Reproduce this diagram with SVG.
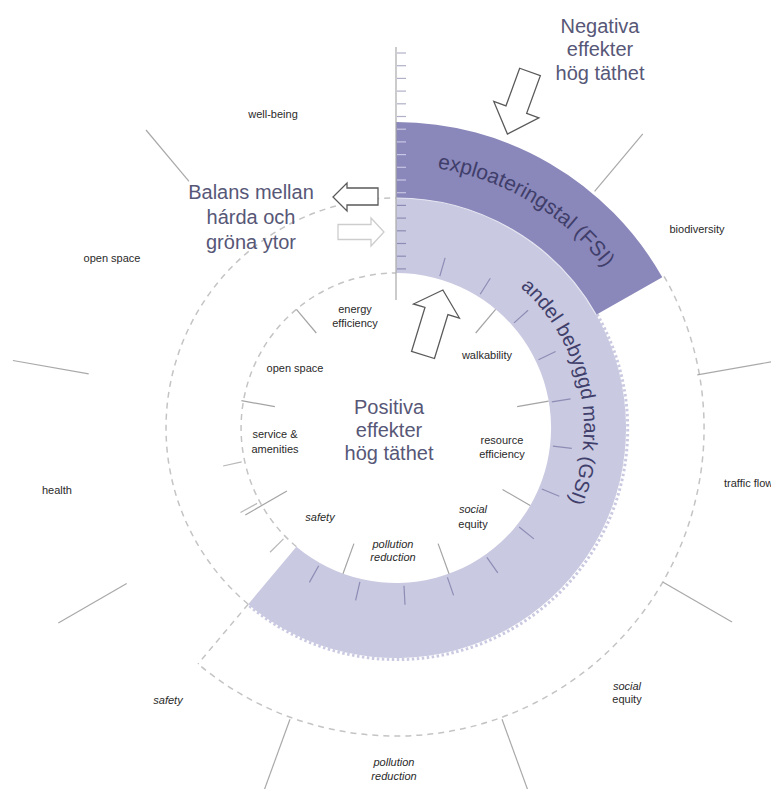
<svg xmlns="http://www.w3.org/2000/svg" width="771" height="789" viewBox="0 0 771 789">
<defs>
<style>
.lbl{font-family:"Liberation Sans",Arial,sans-serif;font-size:11px;fill:#2a2a2a;text-anchor:middle}
.it{font-style:italic}
.big{font-family:"Liberation Sans",Arial,sans-serif;font-size:20px;fill:#575777;text-anchor:middle}
.band{font-family:"Liberation Sans",Arial,sans-serif;fill:#403e6a}
.dash{fill:none;stroke:#c4c4c4;stroke-width:1.5;stroke-dasharray:6 5}
.spoke{stroke:#a9a9a9;stroke-width:1.2;fill:none}
.wsp{stroke:#a4a4a4;stroke-width:1.2}
.tick{stroke:#8e8cb4;stroke-width:1.2}
.tickl{stroke:#b8b8b8;stroke-width:1.2}
.arrow{fill:#fff;stroke:#5a5a5a;stroke-width:1.3;stroke-linejoin:miter}
</style>
<path id="fsiPath" d="M288.2,188.1 A263,263 0 0 1 658.3,408.7"/>
<path id="gsiPath" d="M451.7,248.5 A188,188 0 0 1 523.6,566.0"/>
</defs>
<rect width="771" height="789" fill="#ffffff"/>

<g id="bands">
<path d="M396,198 A230,230 0 1 1 248.2,604.2 L296.4,546.7 A155,155 0 1 0 396,273 Z" fill="#c9c9e1"/>
<path d="M597.1,314.3 A230.5,230.5 0 0 1 247.8,604.6" fill="none" stroke="#c9c9e1" stroke-width="3" stroke-dasharray="2.5 2.5"/>
<path d="M396,122 A306,306 0 0 1 662.3,277.3 L596.2,314.7 A230,230 0 0 0 396,198 Z" fill="#8a87ba"/>
<path d="M396,198 A230,230 0 0 1 596.2,314.7" fill="none" stroke="#e6e6f2" stroke-width="1.2"/>
</g>

<g id="connectors">
<path class="dash" d="M664.1,276.3 A308,308 0 0 1 198.0,663.9"/>
<path class="dash" d="M248.2,604.2 L198.0,663.9"/>
<path class="dash" d="M248.2,604.2 A230,230 0 0 1 396,198"/>
<path class="dash" d="M296.4,546.7 A155,155 0 0 1 396,273"/>
<line class="spoke" x1="396" y1="47" x2="396" y2="300"/>
<line class="spoke" x1="189.0" y1="181.3" x2="146.0" y2="130.0"/>
<line class="spoke" x1="594.6" y1="191.3" x2="642.8" y2="133.9"/>
<line class="spoke" x1="697.3" y1="374.9" x2="772.2" y2="361.7"/>
<line class="spoke" x1="662.7" y1="582" x2="732" y2="622"/>
<line class="spoke" x1="502.0" y1="719.3" x2="529.4" y2="794.5"/>
<line class="spoke" x1="290.0" y1="719.3" x2="262.6" y2="794.5"/>
<line class="spoke" x1="126.7" y1="583.5" x2="58.3" y2="623"/>
<line class="spoke" x1="88.7" y1="373.8" x2="12.9" y2="360.5"/>
<line class="wsp" x1="316.3" y1="333.0" x2="296.4" y2="309.3"/>
<line class="wsp" x1="475.7" y1="333.0" x2="495.6" y2="309.3"/>
<line class="wsp" x1="517.1" y1="406.6" x2="548.6" y2="401.1"/>
<line class="wsp" x1="502.5" y1="489.5" x2="530.2" y2="505.5"/>
<line class="wsp" x1="438.1" y1="543.6" x2="449.0" y2="573.7"/>
<line class="wsp" x1="353.9" y1="543.6" x2="343.0" y2="573.7"/>
<line class="wsp" x1="286.9" y1="491" x2="245.3" y2="515"/>
<line class="wsp" x1="274.9" y1="406.6" x2="241.4" y2="400.7"/>
<g class="tick">
<line x1="439.8" y1="276.2" x2="445.1" y2="257.9"/>
<line x1="480.2" y1="294.3" x2="490.3" y2="278.2"/>
<line x1="514.0" y1="322.9" x2="528.1" y2="310.3"/>
<line x1="538.5" y1="359.7" x2="555.6" y2="351.5"/>
<line x1="551.8" y1="401.9" x2="570.6" y2="398.8"/>
<line x1="552.9" y1="446.2" x2="571.8" y2="448.3"/>
<line x1="541.8" y1="489.0" x2="559.3" y2="496.3"/>
<line x1="519.1" y1="527.0" x2="533.9" y2="538.9"/>
<line x1="486.9" y1="557.3" x2="497.8" y2="572.8"/>
<line x1="447.4" y1="577.4" x2="453.6" y2="595.4"/>
<line x1="404.0" y1="585.8" x2="405.0" y2="604.8"/>
<line x1="359.9" y1="581.8" x2="355.6" y2="600.3"/>
<line x1="318.7" y1="565.8" x2="309.4" y2="582.4"/>
</g>
<g class="tickl">
<line x1="283.5" y1="538.9" x2="270.0" y2="552.3"/>
<line x1="257.1" y1="503.4" x2="240.5" y2="512.5"/>
<line x1="241.7" y1="461.9" x2="223.1" y2="466.0"/>
</g>
<g stroke-width="1.2">
<g stroke="#b0b0c8">
<line x1="397" y1="53" x2="406" y2="53"/><line x1="397" y1="65.7" x2="406" y2="65.7"/><line x1="397" y1="78.4" x2="406" y2="78.4"/><line x1="397" y1="91.1" x2="406" y2="91.1"/><line x1="397" y1="103.8" x2="406" y2="103.8"/><line x1="397" y1="116.5" x2="406" y2="116.5"/>
</g>
<g stroke="#c8c6e4">
<line x1="397" y1="129.2" x2="406" y2="129.2"/><line x1="397" y1="141.9" x2="406" y2="141.9"/><line x1="397" y1="154.6" x2="406" y2="154.6"/><line x1="397" y1="167.3" x2="406" y2="167.3"/><line x1="397" y1="180" x2="406" y2="180"/><line x1="397" y1="192.7" x2="406" y2="192.7"/>
</g>
<g stroke="#8e8cb4">
<line x1="397" y1="205.4" x2="406" y2="205.4"/><line x1="397" y1="218.1" x2="406" y2="218.1"/><line x1="397" y1="230.8" x2="406" y2="230.8"/><line x1="397" y1="243.5" x2="406" y2="243.5"/><line x1="397" y1="256.2" x2="406" y2="256.2"/><line x1="397" y1="268.9" x2="406" y2="268.9"/>
</g>
</g>
</g>

<g id="arrows">
<polygon id="arrow-negativa" class="arrow" transform="translate(530,72) rotate(20)" points="-11,0 11,0 11,40 24,40 0,66 -24,40 -11,40"/>
<polygon id="arrow-positiva" class="arrow" transform="translate(423,355) rotate(17)" points="-12,0 12,0 12,-46 24,-46 0,-68 -24,-46 -12,-46"/>
<polygon id="arrow-left" class="arrow" points="378,188 347,188 347,183 333,197 347,211 347,205 378,205"/>
<polygon id="arrow-right" class="arrow" style="stroke:#cdcdcd" points="338,224.5 371,224.5 371,218 384,232 371,246 371,239.5 338,239.5"/>
</g>

<g id="band-labels">
<text class="band" font-size="21"><textPath href="#fsiPath" startOffset="50%" text-anchor="middle">exploateringstal (FSI)</textPath></text>
<text class="band" font-size="20"><textPath href="#gsiPath" startOffset="50%" text-anchor="middle">andel bebyggd mark (GSI)</textPath></text>
</g>

<g id="node-negativa"><text class="big" x="600" y="33">Negativa</text><text class="big" x="600" y="56">effekter</text><text class="big" x="600" y="80">hög täthet</text></g>
<g id="node-balans"><text class="big" x="251" y="199">Balans mellan</text><text class="big" x="251" y="224">hárda och</text><text class="big" x="251" y="249">gröna ytor</text></g>
<g id="node-positiva"><text class="big" x="389" y="414">Positiva</text><text class="big" x="389" y="437">effekter</text><text class="big" x="389" y="460">hög täthet</text></g>

<g id="outer-labels">
<g id="o-wellbeing"><text class="lbl" x="273" y="118">well-being</text></g>
<g id="o-biodiversity"><text class="lbl" x="697" y="233">biodiversity</text></g>
<g id="o-traffic"><text class="lbl" x="724" y="487" style="text-anchor:start">traffic flow</text></g>
<g id="o-social"><text class="lbl it" x="627" y="690">social</text><text class="lbl" x="627" y="703">equity</text></g>
<g id="o-pollution"><text class="lbl it" x="394" y="766">pollution</text><text class="lbl it" x="394" y="780">reduction</text></g>
<g id="o-safety"><text class="lbl it" x="168" y="704">safety</text></g>
<g id="o-health"><text class="lbl" x="57" y="494">health</text></g>
<g id="o-openspace"><text class="lbl" x="112" y="262">open space</text></g>
</g>

<g id="inner-labels">
<g id="i-energy"><text class="lbl" x="355" y="313">energy</text><text class="lbl" x="355" y="327">efficiency</text></g>
<g id="i-walkability"><text class="lbl" x="487" y="359">walkability</text></g>
<g id="i-resource"><text class="lbl" x="502" y="444">resource</text><text class="lbl" x="502" y="458">efficiency</text></g>
<g id="i-social"><text class="lbl it" x="473" y="513">social</text><text class="lbl" x="473" y="528">equity</text></g>
<g id="i-pollution"><text class="lbl it" x="393" y="548">pollution</text><text class="lbl it" x="393" y="561">reduction</text></g>
<g id="i-safety"><text class="lbl it" x="320" y="521">safety</text></g>
<g id="i-service"><text class="lbl" x="275" y="438">service &amp;</text><text class="lbl" x="275" y="453">amenities</text></g>
<g id="i-openspace"><text class="lbl" x="295" y="372">open space</text></g>
</g>
</svg>
